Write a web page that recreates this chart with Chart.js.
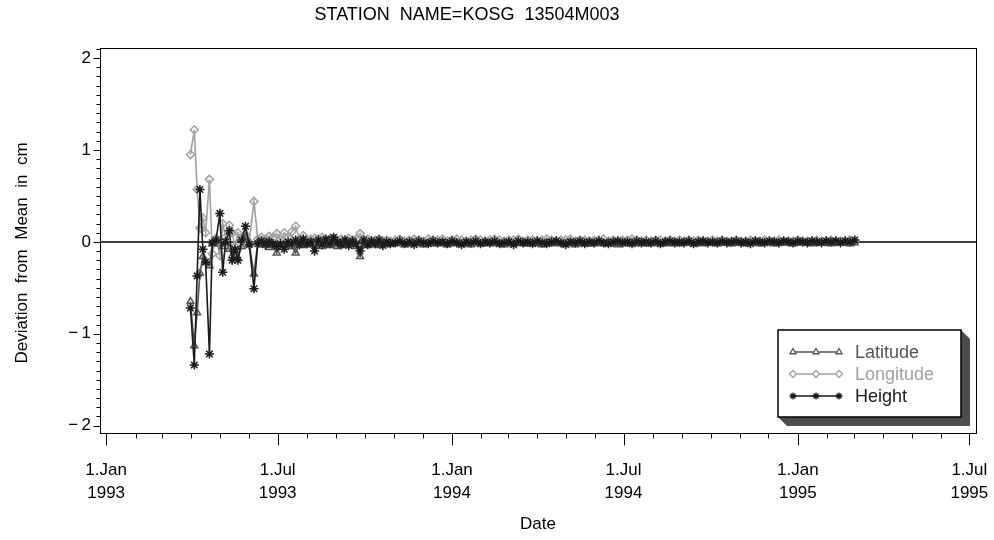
<!DOCTYPE html>
<html><head><meta charset="utf-8">
<script src="https://cdn.jsdelivr.net/npm/chart.js@4.4.0/dist/chart.umd.min.js"></script>
<style>html,body{margin:0;padding:0;background:#fff;}canvas{display:block;}</style>
</head><body>
<canvas id="c" width="994" height="540"></canvas>
<script>
// ---- data (x = days since 1 Jan 1993) ----
const titleText = 'STATION  NAME=KOSG  13504M003';
const yTitle = 'Deviation  from  Mean  in  cm';
const xTitle = 'Date';
const seriesNames = ['Latitude', 'Longitude', 'Height'];
const days = [
  89,93,96,99,102,105,109,112,116,120,
  123,126,130,133,136,139,143,147,151,156,
  160,164,168,172,176,180,184,188,192,196,
  200,204,208,212,216,
  220,224,228,232,236,240,244,248,252,256,
  260,264,268,272,276,280,284,288,292,296,300,
  305,310,315,320,325,330,335,340,345,350,
  355,360,365,370,375,380,385,390,395,400,
  405,410,415,420,425,430,435,440,445,450,
  455,460,465,470,475,480,485,490,495,500,
  505,510,515,520,525,530,535,540,545,550,
  555,560,565,570,575,580,585,590,595,600,
  605,610,615,620,625,630,635,640,645,650,
  655,660,665,670,675,680,685,690,695,700,
  705,710,715,720,725,730,735,740,745,750,
  755,760,765,770,775,780,785,790
];
const latitude = [
  -0.65,-1.13,-0.77,-0.34,-0.16,-0.22,-0.26,-0.02,0.01,-0.02,
  -0.05,0.00,-0.08,-0.15,-0.10,-0.18,-0.05,0.05,-0.02,-0.35,
  0.00,-0.03,-0.02,-0.06,-0.04,-0.12,-0.06,-0.04,-0.03,-0.05,
  -0.12,-0.02,-0.04,-0.03,-0.02,
  -0.03,-0.02,-0.05,-0.03,-0.04,-0.02,-0.05,-0.03,-0.04,-0.02,
  -0.03,-0.05,-0.16,-0.03,-0.04,-0.02,-0.03,-0.04,-0.02,-0.03,-0.02,
  -0.02,-0.01,-0.03,-0.02,-0.01,-0.02,-0.03,-0.01,-0.02,-0.02,
  -0.01,-0.03,-0.02,-0.01,-0.02,-0.02,-0.03,-0.01,-0.02,-0.01,
  -0.02,-0.01,-0.02,-0.03,-0.01,-0.02,-0.01,-0.02,-0.02,-0.01,
  -0.02,-0.03,-0.01,-0.02,-0.01,-0.02,-0.02,-0.01,-0.03,-0.02,
  -0.01,-0.02,-0.02,-0.01,-0.02,-0.01,-0.02,-0.03,-0.01,-0.02,
  -0.01,-0.02,-0.01,-0.02,-0.02,-0.01,-0.02,-0.01,-0.02,-0.01,
  -0.02,-0.01,-0.01,-0.02,-0.01,-0.02,-0.01,-0.01,-0.02,-0.01,
  -0.01,-0.02,-0.01,-0.01,-0.02,-0.01,-0.01,-0.02,-0.01,-0.01,
  -0.02,-0.01,-0.01,-0.01,-0.02,-0.01,-0.01,-0.01,-0.02,-0.01,
  -0.01,-0.01,-0.02,-0.01,-0.01,-0.01,-0.02,-0.01
];
const longitude = [
  0.95,1.22,0.57,0.15,0.26,0.10,0.68,-0.13,0.04,-0.15,
  0.20,0.05,0.18,0.10,-0.05,0.10,0.05,0.08,0.00,0.44,
  0.03,0.05,0.03,0.06,0.05,0.09,0.02,0.10,0.05,0.11,
  0.17,0.03,0.07,0.02,0.03,
  0.04,0.03,0.05,0.02,0.03,0.04,0.02,0.03,0.02,0.04,
  0.02,0.03,0.09,0.02,0.03,0.01,0.02,0.03,0.01,0.02,0.01,
  0.02,0.03,0.01,0.02,0.03,0.02,0.01,0.03,0.02,0.02,
  0.03,0.01,0.02,0.03,0.02,0.01,0.02,0.03,0.02,0.01,
  0.02,0.03,0.02,0.01,0.02,0.02,0.03,0.01,0.02,0.02,
  0.01,0.02,0.03,0.02,0.01,0.02,0.02,0.03,0.01,0.02,
  0.02,0.01,0.02,0.02,0.03,0.01,0.02,0.01,0.02,0.02,
  0.03,0.02,0.01,0.02,0.01,0.02,0.02,0.01,0.02,0.01,
  0.02,0.01,0.02,0.01,0.02,0.01,0.01,0.02,0.01,0.02,
  0.01,0.01,0.02,0.01,0.01,0.02,0.01,0.01,0.02,0.01,
  0.01,0.02,0.01,0.01,0.01,0.02,0.01,0.01,0.01,0.02,
  0.01,0.01,0.02,0.01,0.01,0.01,0.02,0.01
];
const height = [
  -0.72,-1.34,-0.37,0.57,-0.08,-0.22,-1.22,-0.01,0.02,0.31,
  -0.33,0.00,0.12,-0.20,-0.08,-0.20,0.02,0.17,-0.03,-0.51,
  -0.02,0.01,-0.03,0.00,-0.02,-0.05,-0.02,-0.08,0.00,-0.02,
  0.02,-0.03,0.03,-0.02,0.00,
  -0.10,0.02,-0.03,0.03,-0.02,0.05,0.00,-0.03,0.02,-0.04,
  0.01,-0.02,-0.10,0.02,-0.03,0.01,-0.02,0.02,-0.04,0.00,-0.02,
  -0.01,0.01,-0.02,0.00,-0.03,0.01,-0.01,-0.02,0.01,-0.01,
  0.00,-0.02,0.01,-0.01,-0.03,0.00,-0.01,0.01,-0.02,0.00,
  -0.01,0.01,-0.02,-0.01,0.00,-0.03,0.01,-0.01,0.00,-0.02,
  0.01,-0.01,-0.02,0.00,0.01,-0.01,-0.03,0.00,-0.01,0.01,
  -0.02,0.00,-0.01,0.01,-0.01,-0.02,0.00,0.01,-0.01,0.00,
  -0.02,0.01,-0.01,0.00,-0.01,0.01,-0.02,0.00,0.01,-0.01,
  0.00,-0.01,0.01,-0.02,0.00,0.01,-0.01,0.00,-0.01,0.01,
  -0.01,0.00,0.01,-0.01,0.00,-0.02,0.01,0.00,-0.01,0.01,
  0.00,-0.01,0.01,0.00,-0.01,0.01,0.00,-0.01,0.01,0.00,
  -0.01,0.01,0.00,0.01,-0.01,0.01,0.00,0.02
];
const xTickDays = [0, 181, 365, 546, 730, 911];
const xTickLabels = [['1.Jan','1993'],['1.Jul','1993'],['1.Jan','1994'],['1.Jul','1994'],['1.Jan','1995'],['1.Jul','1995']];
const yTicks = [-2, -1, 0, 1, 2];

// ---- styling ----
const FONT = '"Liberation Sans", Arial, Helvetica, sans-serif';
const colors = {Latitude: '#555555', Longitude: '#a0a0a0', Height: '#1a1a1a'};
const styles = {Latitude: 'triangle', Longitude: 'rectRot', Height: 'star'};
const radii = {Latitude: 4, Longitude: 4, Height: 4.6};
const series = {Latitude: latitude, Longitude: longitude, Height: height};
const order = {Height: 0, Latitude: 1, Longitude: 2};

function pts(vals){ const n = Math.min(days.length, vals.length); const o=[]; for(let i=0;i<n;i++) o.push({x:days[i], y:vals[i]}); return o; }

const datasets = seriesNames.map(n => ({
  label: n, data: pts(series[n]), order: order[n],
  borderColor: colors[n], borderWidth: 1.6,
  pointStyle: styles[n], pointRadius: radii[n], pointBorderWidth: 1.5,
  pointBorderColor: colors[n], pointBackgroundColor: 'rgba(255,255,255,0)',
  tension: 0, fill: false
}));

const monthDays = [];
for (let yr = 1993; yr <= 1995; yr++) for (let m = 0; m < 12; m++) {
  monthDays.push((Date.UTC(yr, m, 1) - Date.UTC(1993, 0, 1)) / 86400000);
}

const decor = {
  id: 'decor',
  beforeDatasetsDraw(chart){
    const {ctx, chartArea: a, scales: {y}} = chart;
    ctx.save();
    ctx.strokeStyle = '#000'; ctx.lineWidth = 1.5;
    const y0 = y.getPixelForValue(0);
    ctx.beginPath(); ctx.moveTo(a.left, y0); ctx.lineTo(a.right, y0); ctx.stroke();
    ctx.restore();
  },
  afterDraw(chart){
    const {ctx, chartArea: a, scales: {x, y}} = chart;
    ctx.save();
    // frame
    ctx.strokeStyle = '#000'; ctx.lineWidth = 1;
    ctx.strokeRect(Math.round(a.left)+0.5, Math.round(a.top)+0.5, Math.round(a.right-a.left), Math.round(a.bottom-a.top));
    // x ticks
    ctx.beginPath();
    const yb = Math.round(a.bottom)+0.5;
    monthDays.forEach(d => {
      if (d < x.min || d > x.max) return;
      const px = Math.round(x.getPixelForValue(d)) + 0.5;
      const major = xTickDays.includes(d);
      ctx.moveTo(px, yb); ctx.lineTo(px, yb + (major ? 12 : 5));
    });
    // y ticks
    const xl = Math.round(a.left)+0.5;
    for (let k = -20; k <= 21; k++) {
      const v = k / 10;
      if (v < y.min || v > y.max) continue;
      const py = Math.round(y.getPixelForValue(v)) + 0.5;
      const major = (k % 10 === 0);
      ctx.moveTo(xl, py); ctx.lineTo(xl - (major ? 7 : 4), py);
    }
    ctx.stroke();
    // title
    ctx.fillStyle = '#000';
    ctx.font = '18px ' + FONT;
    ctx.textAlign = 'center'; ctx.textBaseline = 'middle';
    ctx.fillText(titleText, 467, 15);
    // y axis title
    ctx.save();
    ctx.translate(22, 253); ctx.rotate(-Math.PI / 2);
    ctx.font = '17px ' + FONT;
    ctx.fillText(yTitle, 0, 0);
    ctx.restore();
    // legend
    const L = 778, T = 330, R = 961, B = 417, s = 9;
    ctx.fillStyle = '#4d4d4d';
    ctx.beginPath();
    ctx.moveTo(R, T); ctx.lineTo(R + s, T + s); ctx.lineTo(R + s, B + s); ctx.lineTo(L + s, B + s); ctx.lineTo(L, B); ctx.closePath();
    ctx.fill();
    ctx.fillStyle = '#fff';
    ctx.fillRect(L, T, R - L, B - T);
    ctx.strokeStyle = '#000'; ctx.lineWidth = 1.5;
    ctx.strokeRect(L, T, R - L, B - T);
    const rows = [352, 374, 396];
    ctx.font = '18px ' + FONT;
    ctx.textAlign = 'left'; ctx.textBaseline = 'middle';
    seriesNames.forEach((n, i) => {
      const ry = rows[i];
      ctx.strokeStyle = colors[n]; ctx.lineWidth = 1.5;
      ctx.beginPath(); ctx.moveTo(793, ry); ctx.lineTo(839, ry); ctx.stroke();
      [793, 816, 839].forEach(px => {
        ctx.strokeStyle = colors[n]; ctx.fillStyle = '#fff'; ctx.lineWidth = 1.3;
        Chart.helpers.drawPoint(ctx, {pointStyle: styles[n], radius: 3.5, borderWidth: 1.3, rotation: 0}, px, ry);
      });
      ctx.fillStyle = colors[n];
      ctx.fillText(n, 855, ry + 1);
    });
    ctx.restore();
  }
};

new Chart(document.getElementById('c'), {
  type: 'line',
  data: {datasets},
  plugins: [decor],
  options: {
    responsive: false, animation: false, devicePixelRatio: 1,
    layout: {padding: {left: 0, right: 18, top: 48, bottom: 0}},
    plugins: {legend: {display: false}, tooltip: {enabled: false}, title: {display: false}},
    scales: {
      x: {
        type: 'linear', min: -6.5, max: 918,
        grid: {display: false, drawTicks: false}, border: {display: false},
        afterBuildTicks: s => { s.ticks = xTickDays.map(v => ({value: v})); },
        afterFit: s => { s.height = 107; s.paddingLeft = 0; s.paddingRight = 0; },
        ticks: {
          autoSkip: false, maxRotation: 0, minRotation: 0, padding: 25, color: '#000',
          font: {family: FONT, size: 17, lineHeight: 1.4},
          callback: v => { const i = xTickDays.indexOf(v); return i >= 0 ? xTickLabels[i] : ''; }
        },
        title: {display: true, text: xTitle, color: '#000', font: {family: FONT, size: 17, lineHeight: 1.2}, padding: {top: 0, bottom: 5}}
      },
      y: {
        min: -2.08, max: 2.11,
        grid: {display: false, drawTicks: false}, border: {display: false},
        afterBuildTicks: s => { s.ticks = yTicks.map(v => ({value: v})); },
        afterFit: s => { s.width = 100; },
        ticks: {
          padding: 9, color: '#000', font: {family: FONT, size: 17},
          callback: v => v < 0 ? '\u2212\u2009' + Math.abs(v) : String(v)
        },
        title: {display: false}
      }
    }
  }
});
</script>
</body></html>
